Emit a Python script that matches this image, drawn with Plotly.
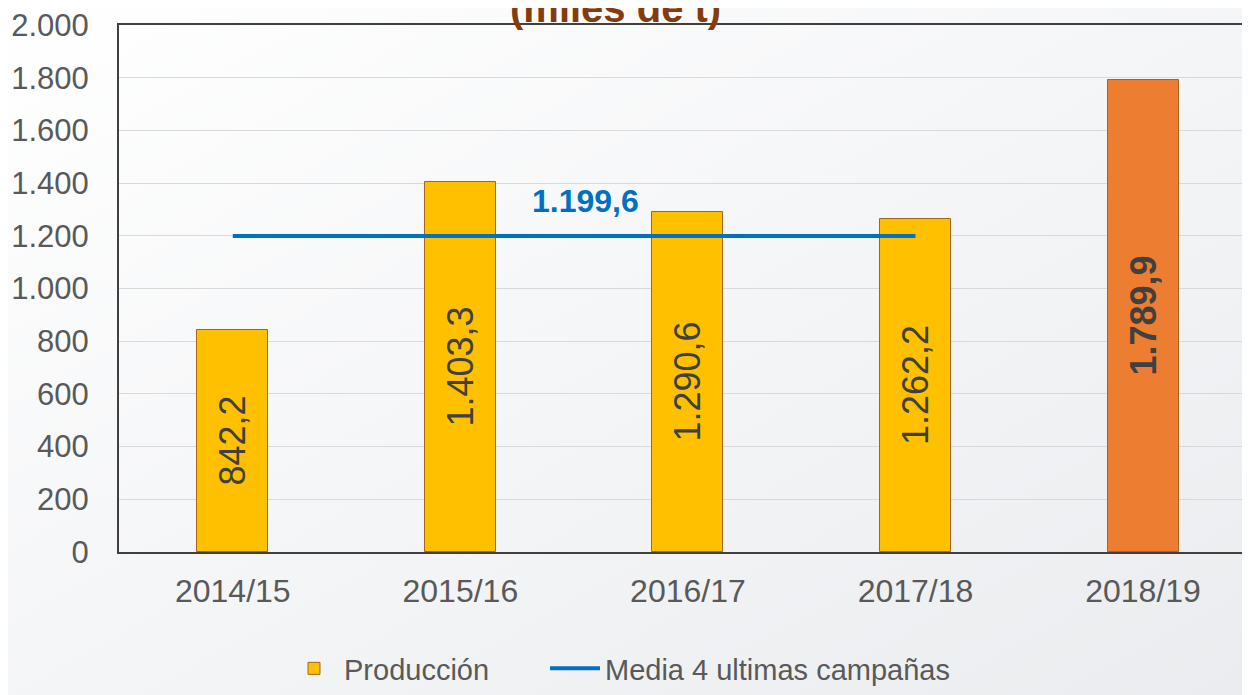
import plotly.graph_objects as go

campaigns = ["2014/15", "2015/16", "2016/17", "2017/18", "2018/19"]
production = [842.2, 1403.3, 1290.6, 1262.2, 1789.9]
bar_colors = ["#FFC000", "#FFC000", "#FFC000", "#FFC000", "#ED7D31"]
label_templates = ["%{y:,.1f}"] * 4 + ["<b>%{y:,.1f}</b>"]
avg_campaigns = ["2014/15", "2015/16", "2016/17", "2017/18"]
avg_value = 1199.6
avg_values = [avg_value] * len(avg_campaigns)
y_ticks = [0, 200, 400, 600, 800, 1000, 1200, 1400, 1600, 1800, 2000]

# page body has an 8px margin; figure sized to fit the 1250x695 window
OFF = 8
W, H = 1250 - OFF, 695 - OFF
L, R, T, B = 119 - OFF, 0, 25 - OFF, 143
pw, ph = W - L - R, H - T - B

font = "Liberation Sans, Arial, sans-serif"
grey = "#595959"

svg = ("data:image/svg+xml;utf8,<svg xmlns='http://www.w3.org/2000/svg' width='1250' height='695'>"
       "<defs><linearGradient id='g' x1='0' y1='0' x2='1' y2='1'>"
       "<stop offset='0' stop-color='%23ffffff'/><stop offset='1' stop-color='%23eaecef'/>"
       "</linearGradient></defs><rect width='1250' height='695' fill='url(%23g)'/></svg>")

fig = go.Figure()
fig.add_trace(go.Bar(
    x=campaigns, y=production, name="Producción",
    marker=dict(color=bar_colors, line=dict(color="#A5651C", width=1)),
    width=0.312,
    texttemplate=label_templates, textposition="inside", insidetextanchor="middle",
    textangle=-90,
    textfont=dict(family=font, size=36, color="#404040"),
    legend="legend",
))
fig.add_trace(go.Scatter(
    x=avg_campaigns, y=avg_values, name="Media 4 ultimas campañas",
    mode="lines", line=dict(color="#0070C0", width=4),
    legend="legend2",
))

fig.add_annotation(
    x=1.55, y=avg_value, xref="x", yref="y", text="<b>1.199,6</b>",
    showarrow=False, yanchor="bottom", yshift=15,
    font=dict(family=font, size=32, color="#0070C0"),
)
fig.add_annotation(
    x=(615 - OFF - L) / pw, y=1 + T / ph, xref="paper", yref="paper",
    text="<b>(miles de t)</b>", showarrow=False, yanchor="middle",
    font=dict(family=font, size=40, color="#843C0C"),
)

leg_common = dict(orientation="h", y=-(B - 1) / ph, xanchor="left", yanchor="bottom",
                  font=dict(family=font, size=29, color=grey),
                  bgcolor="rgba(0,0,0,0)", itemwidth=50)

fig.update_layout(
    width=W, height=H,
    margin=dict(l=L, r=R, t=T, b=B),
    separators=",.",
    paper_bgcolor="#f4f5f7",
    plot_bgcolor="rgba(0,0,0,0)",
    images=[dict(source=svg, xref="paper", yref="paper",
                 x=-L / pw, y=1 + T / ph, sizex=W / pw, sizey=H / ph,
                 xanchor="left", yanchor="top", sizing="stretch", layer="below")],
    showlegend=True,
    legend=dict(x=(284 - OFF - L) / pw, **leg_common),
    legend2=dict(x=(545 - OFF - L) / pw, **leg_common),
    xaxis=dict(
        range=[-0.5, 4.47], showline=True, linecolor="#404040", linewidth=2,
        mirror=True, showgrid=False, ticks="",
        tickfont=dict(family=font, size=32, color=grey),
        ticklabelstandoff=10,
    ),
    yaxis=dict(
        range=[0, 2000], tickvals=y_ticks, tickformat=",d",
        showline=True, linecolor="#404040", linewidth=2,
        showgrid=True, gridcolor="#d9d9d9", gridwidth=1,
        tickfont=dict(family=font, size=31, color=grey),
        ticks="", ticklabelstandoff=22, zeroline=False,
        ticklabeloverflow="allow",
    ),
    bargap=0.0,
)

fig.write_html("out.html")
